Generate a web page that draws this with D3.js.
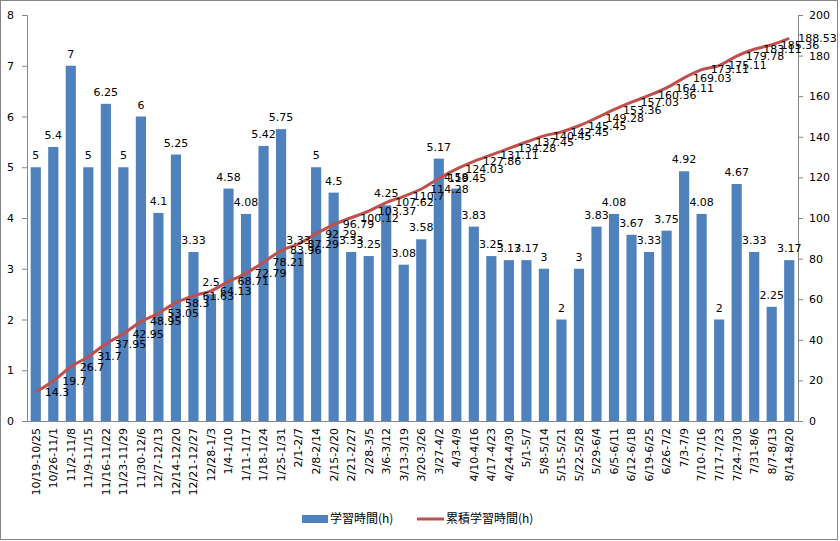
<!DOCTYPE html>
<html>
<head>
<meta charset="utf-8">
<script src="https://cdn.jsdelivr.net/npm/d3@7"></script>
<style>
  body { margin: 0; background: #fff; }
  text { font-family: "DejaVu Sans", "Noto Sans CJK JP", sans-serif; }
</style>
</head>
<body>
<script>
/* ------------------------------- chart data ------------------------------- */
const weeks = ["10/19-10/25", "10/26-11/1", "11/2-11/8", "11/9-11/15", "11/16-11/22", "11/23-11/29",
  "11/30-12/6", "12/7-12/13", "12/14-12/20", "12/21-12/27", "12/28-1/3", "1/4-1/10", "1/11-1/17",
  "1/18-1/24", "1/25-1/31", "2/1-2/7", "2/8-2/14", "2/15-2/20", "2/21-2/27", "2/28-3/5", "3/6-3/12",
  "3/13-3/19", "3/20-3/26", "3/27-4/2", "4/3-4/9", "4/10-4/16", "4/17-4/23", "4/24-4/30", "5/1-5/7",
  "5/8-5/14", "5/15-5/21", "5/22-5/28", "5/29-6/4", "6/5-6/11", "6/12-6/18", "6/19-6/25", "6/26-7/2",
  "7/3-7/9", "7/10-7/16", "7/17-7/23", "7/24-7/30", "7/31-8/6", "8/7-8/13", "8/14-8/20"];
const hours = [5, 5.4, 7, 5, 6.25, 5, 6, 4.1, 5.25, 3.33, 2.5, 4.58, 4.08, 5.42, 5.75, 3.33, 5, 4.5,
  3.33, 3.25, 4.25, 3.08, 3.58, 5.17, 4.58, 3.83, 3.25, 3.17, 3.17, 3, 2, 3, 3.83, 4.08, 3.67, 3.33,
  3.75, 4.92, 4.08, 2, 4.67, 3.33, 2.25, 3.17];
const cumulative = [14.3, 19.7, 26.7, 31.7, 37.95, 42.95, 48.95, 53.05, 58.3, 61.63, 64.13, 68.71,
  72.79, 78.21, 83.96, 87.29, 92.29, 96.79, 100.12, 103.37, 107.62, 110.7, 114.28, 119.45, 124.03,
  127.86, 131.11, 134.28, 137.45, 140.45, 142.45, 145.45, 149.28, 153.36, 157.03, 160.36, 164.11,
  169.03, 173.11, 175.11, 179.78, 183.11, 185.36, 188.53];
const leftTicks = [0, 1, 2, 3, 4, 5, 6, 7, 8];
const rightTicks = [0, 20, 40, 60, 80, 100, 120, 140, 160, 180, 200];
const seriesNames = ["学習時間(h)", "累積学習時間(h)"];

/* ---------------------------------- sizes --------------------------------- */
const width = 840, height = 541;
const plot = { left: 27, right: 798, top: 15, bottom: 421 };
const barColor = "#4F81BD", lineColor = "#C0504D", axisColor = "#868686";

const svg = d3.select("body").append("svg").attr("width", width).attr("height", height);

// outer border
svg.append("rect").attr("x", 0.5).attr("y", 0.5).attr("width", 837).attr("height", 539)
  .attr("fill", "#fff").attr("stroke", axisColor);

/* --------------------------------- scales --------------------------------- */
const x = d3.scaleBand().domain(weeks).range([plot.left, plot.right]).paddingInner(0.42).paddingOuter(0.21);
const yL = d3.scaleLinear().domain([0, 8]).range([plot.bottom, plot.top]);
const yR = d3.scaleLinear().domain([0, 200]).range([plot.bottom, plot.top]);

/* ---------------------------------- bars ---------------------------------- */
svg.append("g").selectAll("rect").data(hours).enter().append("rect")
  .attr("x", (d, i) => x(weeks[i]))
  .attr("y", d => yL(d))
  .attr("width", x.bandwidth())
  .attr("height", d => yL(0) - yL(d))
  .attr("fill", barColor);

/* ---------------------------------- axes ---------------------------------- */
const axisL = svg.append("g").attr("transform", `translate(${plot.left},0)`)
  .call(d3.axisLeft(yL).tickValues(leftTicks).tickSize(5).tickPadding(8));
const axisR = svg.append("g").attr("transform", `translate(${plot.right},0)`)
  .call(d3.axisRight(yR).tickValues(rightTicks).tickSize(5).tickPadding(6));
const axisB = svg.append("g").attr("transform", `translate(0,${plot.bottom})`)
  .call(d3.axisBottom(x).tickSize(0).tickPadding(0));

[axisL, axisR, axisB].forEach(a => {
  a.select(".domain").attr("stroke", axisColor);
  a.selectAll(".tick line").attr("stroke", axisColor);
  a.selectAll("text").attr("fill", "#000").style("font-size", "11px")
    .style("font-family", "DejaVu Sans, sans-serif");
});
axisB.select(".domain").attr("d", `M${plot.left},0.5H${plot.right}`);
axisB.selectAll(".tick text")
  .attr("transform", "rotate(-90)")
  .attr("text-anchor", "end")
  .attr("x", -7).attr("y", 0).attr("dy", "0.35em");

/* ---------------------------------- line ---------------------------------- */
const cx = i => x(weeks[i]) + x.bandwidth() / 2;
const line = d3.line().x((d, i) => cx(i)).y(d => yR(d)).curve(d3.curveMonotoneX);
svg.append("path").datum(cumulative)
  .attr("d", line)
  .attr("fill", "none")
  .attr("stroke", lineColor)
  .attr("stroke-width", 3)
  .attr("stroke-linejoin", "round");

/* --------------------------------- labels --------------------------------- */
svg.append("g").selectAll("text").data(hours).enter().append("text")
  .attr("x", (d, i) => cx(i))
  .attr("y", d => yL(d) - 8)
  .attr("text-anchor", "middle")
  .style("font-size", "11px")
  .text(d => d);

svg.append("g").selectAll("text").data(cumulative).enter().append("text")
  .attr("x", (d, i) => cx(i) + 9)
  .attr("y", d => yR(d))
  .attr("dy", "0.35em")
  .style("font-size", "11px")
  .text(d => d);

/* --------------------------------- legend --------------------------------- */
const legend = svg.append("g").attr("transform", "translate(0,519)");
legend.append("rect").attr("x", 302).attr("y", -4).attr("width", 26).attr("height", 8).attr("fill", barColor);
legend.append("text").attr("x", 330).attr("y", 0).attr("dy", "0.35em")
  .style("font-family", "Noto Sans CJK JP").style("font-size", "12px").text(seriesNames[0]);
legend.append("line").attr("x1", 417).attr("x2", 444).attr("y1", 0).attr("y2", 0)
  .attr("stroke", lineColor).attr("stroke-width", 3);
legend.append("text").attr("x", 446).attr("y", 0).attr("dy", "0.35em")
  .style("font-family", "Noto Sans CJK JP").style("font-size", "12px").text(seriesNames[1]);
</script>
</body>
</html>
